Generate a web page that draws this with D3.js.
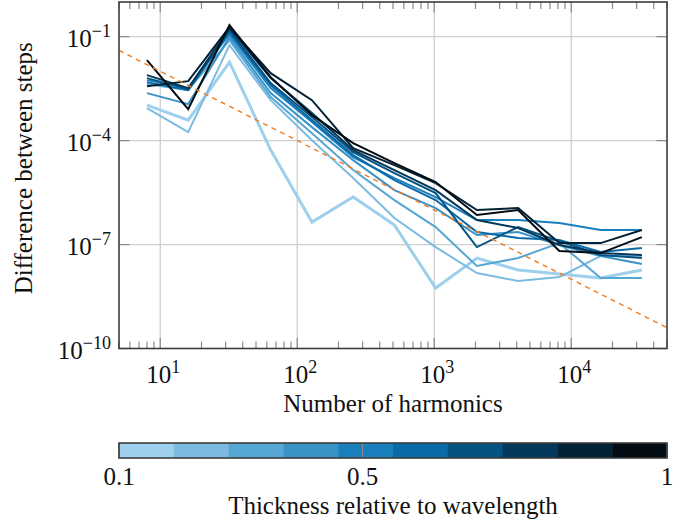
<!DOCTYPE html>
<html>
<head>
<meta charset="utf-8">
<title>Difference between steps</title>
<script src="https://cdn.jsdelivr.net/npm/d3@7"></script>
<style>
	body { margin: 0; background: #fff; }
	text { font-family: "Liberation Serif", "Times New Roman", serif; fill: #111; }
	.grid line { stroke: #cfcfcf; stroke-width: 1.3; }
	.tick-mark { stroke: #8a8a8a; stroke-width: 1.2; }
	.frame { fill: none; stroke: #3c3c3c; stroke-width: 1.6; }
	.series { fill: none; stroke-linejoin: miter; stroke-linecap: butt; }
	.ref { fill: none; stroke: #f07a1e; stroke-width: 1.4; stroke-dasharray: 5 4.5; }
</style>
</head>
<body>
<div id="chart"></div>
<script>
var W = 691, H = 525;
var pLeft = 119, pRight = 667, pTop = 2, pBottom = 348.5;

// number of harmonics
var harmonics = [8, 16, 32, 64, 128, 256, 512, 1024, 2048, 4096, 8192, 16384, 32768];

// thickness relative to wavelength, one series each
var thickness = [0.1, 0.2, 0.3, 0.4, 0.5, 0.6, 0.7, 0.8, 0.9, 1.0];

var diff01 = [1.06e-3, 3.90e-4, 1.84e-2, 5.32e-5, 4.46e-7, 2.35e-6, 3.65e-7, 5.56e-9, 4.08e-8, 1.84e-8, 1.41e-8, 1.08e-8, 1.84e-8];
var diff02 = [8.66e-4, 1.76e-4, 5.69e-2, 1.47e-3, 1.03e-4, 8.28e-6, 5.81e-7, 8.47e-8, 1.51e-8, 8.85e-9, 1.16e-8, 4.66e-8, 4.66e-8];
var diff03 = [4.27e-3, 2.86e-3, 7.93e-2, 1.80e-3, 1.64e-4, 1.41e-5, 1.92e-6, 3.20e-7, 2.40e-8, 4.08e-8, 1.10e-7, 1.08e-8, 1.08e-8];
var diff04 = [2.35e-3, 1.13e-3, 9.68e-2, 2.35e-3, 2.45e-4, 2.74e-5, 3.73e-6, 1.13e-6, 1.88e-7, 2.30e-7, 9.68e-8, 4.66e-8, 2.74e-8];
var diff05 = [5.56e-3, 3.27e-3, 1.18e-1, 3.27e-3, 3.42e-4, 3.34e-5, 8.28e-6, 2.35e-6, 5.09e-7, 5.09e-7, 4.17e-7, 2.62e-7, 2.62e-7];
var diff06 = [4.87e-3, 2.86e-3, 1.35e-1, 3.99e-3, 3.90e-4, 3.82e-5, 7.26e-6, 1.92e-6, 2.30e-7, 1.54e-7, 1.35e-7, 6.07e-8, 7.93e-8];
var diff07 = [6.35e-3, 3.06e-3, 1.54e-1, 4.56e-3, 4.77e-4, 4.66e-5, 1.15e-5, 3.06e-6, 8.47e-8, 3.20e-7, 1.26e-7, 4.98e-8, 4.08e-8];
var diff08 = [7.74e-3, 3.27e-3, 1.76e-1, 6.35e-3, 6.21e-4, 5.32e-5, 1.41e-5, 3.73e-6, 5.09e-7, 2.99e-7, 9.68e-8, 5.68e-8, 4.98e-8];
var diff09 = [3.73e-3, 5.20e-3, 1.88e-1, 8.85e-3, 1.47e-3, 6.08e-5, 1.96e-5, 5.94e-6, 9.89e-7, 1.13e-6, 1.10e-7, 1.10e-7, 2.62e-7];
var diff10 = [2.10e-2, 8.10e-4, 2.15e-1, 6.79e-3, 5.44e-4, 8.47e-5, 2.24e-5, 6.35e-6, 7.10e-7, 9.89e-7, 6.49e-8, 5.68e-8, 1.64e-7];

var diffs = [diff01, diff02, diff03, diff04, diff05, diff06, diff07, diff08, diff09, diff10];

// dashed reference slope (N^-2)
var refX = [5, 50000];
var refY = [4e-2, 4e-10];

var xTicks = [10, 100, 1000, 10000];
var yTicks = [1e-1, 1e-4, 1e-7, 1e-10];
var cbTicks = [0.1, 0.5, 1];
var cbLabels = ["0.1", "0.5", "1"];

var palette = ["#9ecfec", "#7cbbe0", "#56a6d3", "#3993c7", "#1a7fbd",
               "#0a6aa7", "#045383", "#03385a", "#022236", "#020c12"];

var x = d3.scaleLog().domain([5, 50000]).range([pLeft, pRight]);
var y = d3.scaleLog().domain([1e-10, 1]).range([pBottom, pTop]);
var color = d3.scaleQuantize().domain([0.1, 1]).range(palette);

var svg = d3.select("#chart").append("svg")
	.attr("width", W)
	.attr("height", H);

// grid
var grid = svg.append("g").attr("class", "grid");
grid.selectAll(".gx").data(xTicks).enter().append("line")
	.attr("x1", function(d) { return x(d); }).attr("x2", function(d) { return x(d); })
	.attr("y1", pTop).attr("y2", pBottom);
grid.selectAll(".gy").data(yTicks.slice(0, 3)).enter().append("line")
	.attr("x1", pLeft).attr("x2", pRight)
	.attr("y1", function(d) { return y(d); }).attr("y2", function(d) { return y(d); });

// tick marks, inward on all four sides
var minor = x.ticks().filter(function(d) {
	var l = Math.log10(d);
	return Math.abs(l - Math.round(l)) > 1e-6;
});
var ticks = svg.append("g");
function vtick(v, len) {
	ticks.append("line").attr("class", "tick-mark")
		.attr("x1", x(v)).attr("x2", x(v)).attr("y1", pBottom).attr("y2", pBottom - len);
	ticks.append("line").attr("class", "tick-mark")
		.attr("x1", x(v)).attr("x2", x(v)).attr("y1", pTop).attr("y2", pTop + len);
}
minor.forEach(function(v) { vtick(v, 7); });
xTicks.forEach(function(v) { vtick(v, 10.5); });
yTicks.forEach(function(v) {
	ticks.append("line").attr("class", "tick-mark")
		.attr("x1", pLeft).attr("x2", pLeft + 10.5).attr("y1", y(v)).attr("y2", y(v));
	ticks.append("line").attr("class", "tick-mark")
		.attr("x1", pRight).attr("x2", pRight - 10.5).attr("y1", y(v)).attr("y2", y(v));
});

// series
var line = d3.line()
	.x(function(d) { return x(d[0]); })
	.y(function(d) { return y(d[1]); });

var plot = svg.append("g");
plot.append("defs").append("clipPath").attr("id", "clip")
	.append("rect").attr("x", pLeft).attr("y", pTop)
	.attr("width", pRight - pLeft).attr("height", pBottom - pTop);

plot.selectAll("path.series")
	.data(diffs)
	.enter().append("path")
	.attr("class", "series")
	.attr("d", function(vals) { return line(d3.zip(harmonics, vals)); })
	.attr("stroke", function(vals, i) { return color(thickness[i]); })
	.attr("stroke-width", function(vals, i) { return i == 0 ? 3 : 2; });

plot.append("path")
	.attr("class", "ref")
	.attr("clip-path", "url(#clip)")
	.attr("d", line(d3.zip(refX, refY)));

// frame
svg.append("rect").attr("class", "frame")
	.attr("x", pLeft).attr("y", pTop)
	.attr("width", pRight - pLeft).attr("height", pBottom - pTop);

// tick labels
function powLabel(sel, e) {
	sel.append("tspan").text("10");
	sel.append("tspan").attr("dy", -10).attr("font-size", 18).text(e < 0 ? "\u2212" + (-e) : e);
}
xTicks.forEach(function(v) {
	var t = svg.append("text")
		.attr("x", x(v) + 3).attr("y", pBottom + 34)
		.attr("text-anchor", "middle").attr("font-size", 25);
	powLabel(t, Math.round(Math.log10(v)));
});
yTicks.forEach(function(v) {
	var t = svg.append("text")
		.attr("x", pLeft - 8).attr("y", y(v) + 10.5)
		.attr("text-anchor", "end").attr("font-size", 25);
	powLabel(t, Math.round(Math.log10(v)));
});

// axis titles
svg.append("text")
	.attr("x", (pLeft + pRight) / 2).attr("y", 412)
	.attr("text-anchor", "middle").attr("font-size", 25)
	.text("Number of harmonics");
svg.append("text")
	.attr("transform", "translate(32," + ((pTop + pBottom) / 2 - 7) + ") rotate(-90)")
	.attr("text-anchor", "middle").attr("font-size", 25)
	.text("Difference between steps");

// colour bar
var cb = d3.scaleLinear().domain([0.1, 1]).range([pLeft, pRight]);
var cbTop = 443, cbH = 15;
var bins = palette.map(function(c) { return color.invertExtent(c); });
svg.selectAll("rect.bin").data(bins).enter().append("rect")
	.attr("x", function(d) { return cb(d[0]); })
	.attr("width", function(d) { return cb(d[1]) - cb(d[0]) + 0.5; })
	.attr("y", cbTop).attr("height", cbH)
	.attr("fill", function(d, i) { return palette[i]; });
cbTicks.forEach(function(v) {
	svg.append("line").attr("class", "tick-mark")
		.attr("x1", cb(v)).attr("x2", cb(v)).attr("y1", cbTop).attr("y2", cbTop + cbH);
});
svg.append("rect").attr("class", "frame")
	.attr("x", pLeft).attr("y", cbTop).attr("width", pRight - pLeft).attr("height", cbH);
cbTicks.forEach(function(v, i) {
	svg.append("text")
		.attr("x", cb(v)).attr("y", 485)
		.attr("text-anchor", "middle").attr("font-size", 25)
		.text(cbLabels[i]);
});
svg.append("text")
	.attr("x", (pLeft + pRight) / 2).attr("y", 514)
	.attr("text-anchor", "middle").attr("font-size", 25)
	.text("Thickness relative to wavelength");
</script>
</body>
</html>
